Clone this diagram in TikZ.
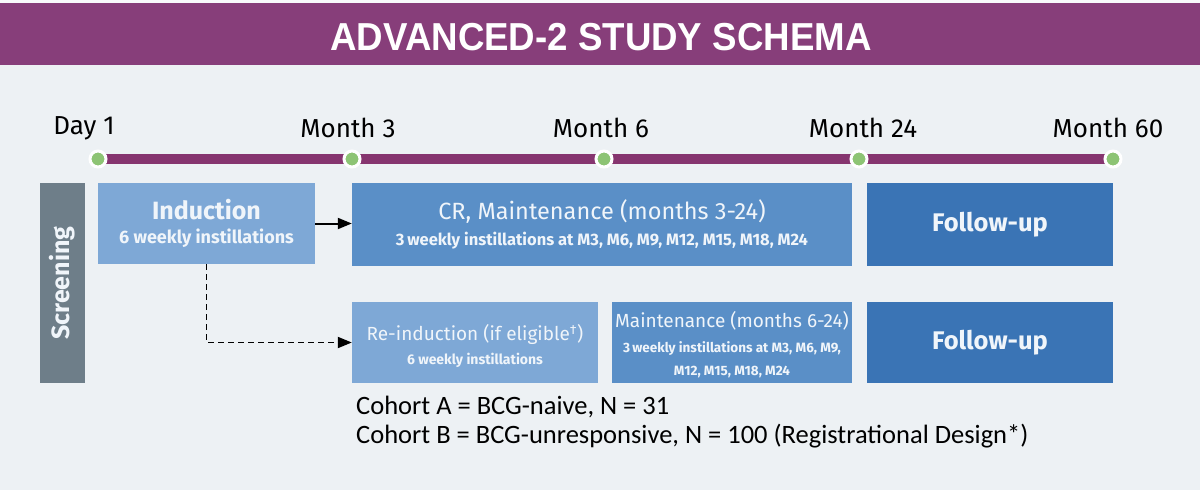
\documentclass[tikz,border=0pt]{standalone}
\usepackage{fontspec}
\setmainfont{Fira Sans}
\newfontfamily\cohortfont{Carlito}
\newfontfamily\titlefont{Liberation Sans}
\usetikzlibrary{arrows.meta}
\definecolor{bgc}{RGB}{237,241,244}
\definecolor{purp}{RGB}{135,62,122}
\definecolor{linep}{RGB}{134,53,111}
\definecolor{lightb}{RGB}{126,168,214}
\definecolor{midb}{RGB}{90,143,199}
\definecolor{darkb}{RGB}{58,116,181}
\definecolor{scrg}{RGB}{110,126,137}
\definecolor{dotg}{RGB}{141,196,116}
\definecolor{boxtext}{RGB}{240,245,250}
\newcommand{\fs}[1]{\fontsize{#1}{#1}\selectfont}
\tikzset{
  box/.style={rectangle, inner sep=0pt, text=boxtext, align=center},
  tdot/.style={circle, fill=dotg, draw=white, line width=3pt, minimum size=16pt, inner sep=0pt},
  tlabel/.style={inner sep=0pt, font=\fs{26}},
  arr/.style={-{Triangle[length=14pt,width=11pt]}, line width=2pt},
}
\begin{document}
\begin{tikzpicture}[x=1pt,y=-1pt]
\useasboundingbox (0,0) rectangle (1200,490);
\fill[bgc] (0,0) rectangle (1200,490);
\fill[white!60!bgc] (0,0) rectangle (1200,3);
\fill[purp] (0,3) rectangle (1200,65);
\node[inner sep=0pt, text=white, font=\titlefont\bfseries\fs{39}, xscale=0.94] (title) at (601,37) {ADVANCED-2 STUDY SCHEMA};

% timeline
\coordinate (c1) at (98,159);
\coordinate (c2) at (352,159);
\coordinate (c3) at (604,159);
\coordinate (c4) at (859,159);
\coordinate (c5) at (1113,159);
\draw[linep, line width=10pt] (c1) -- (c5);
\node[tdot] (d1) at (c1) {};
\node[tdot] (d2) at (c2) {};
\node[tdot] (d3) at (c3) {};
\node[tdot] (d4) at (c4) {};
\node[tdot] (d5) at (c5) {};
\node[tlabel] (l1) at (84,128) {Day 1};
\node[tlabel] (l2) at (348,128) {Month 3};
\node[tlabel] (l3) at (601,128) {Month 6};
\node[tlabel] (l4) at (863,128) {Month 24};
\node[tlabel] (l5) at (1108,128) {Month 60};

% boxes
\node[box, fill=scrg, minimum width=45pt, minimum height=200pt] (scr) at (62.5,283) {};
\node[text=boxtext, rotate=90, font=\bfseries\fs{25}, inner sep=0pt] (scrt) at (scr.center) {Screening};

\node[box, fill=lightb, minimum width=217pt, minimum height=81pt] (ind) at (206.5,223.5)
  {{\bfseries\fs{25}Induction}\\[8pt]{\bfseries\fs{18}6 weekly instillations}};
\node[box, fill=midb, minimum width=500pt, minimum height=83pt] (cr) at (602,224.5)
  {{\fs{23.5}CR, Maintenance (months 3-24)}\\[7pt]{\bfseries\fs{16.5}3\,weekly instillations at M3, M6, M9, M12, M15, M18, M24}};
\node[box, fill=darkb, minimum width=246pt, minimum height=83pt] (fu1) at (990,224.5)
  {\bfseries\fs{25.5}Follow-up};

\node[box, fill=lightb, minimum width=246pt, minimum height=81pt] (rei) at (475,342.5)
  {\raisebox{-4pt}[\height][\depth]{\begin{tabular}{@{}c@{}}{\fs{19}Re-induction (if eligible\textsuperscript{\dag})}\\[9pt]{\bfseries\fs{14}6 weekly instillations}\end{tabular}}};
\node[box, fill=midb, minimum width=240pt, minimum height=81pt] (mnt) at (732,342.5)
  {\raisebox{-3pt}[\height][\depth]{\begin{tabular}{@{}c@{}}{\fs{19}Maintenance (months 6-24)}\\[10pt]{\bfseries\fs{13.5}3\,weekly instillations at M3, M6, M9,}\\[10pt]{\bfseries\fs{13.5}M12, M15, M18, M24}\end{tabular}}};
\node[box, fill=darkb, minimum width=246pt, minimum height=81pt] (fu2) at (990,342.5)
  {\bfseries\fs{25.5}Follow-up};

% connectors
\draw[arr] (ind.east) -- (cr.west |- ind.east);
\draw[arr, dash pattern=on 6pt off 4pt, line width=1.8pt] (ind.south) |- (rei.west);

% cohort text
\node[anchor=west, inner sep=0pt, font=\cohortfont\fs{26.5}, align=left] (coh) at (356,422)
  {Cohort A = BCG-naive, N = 31\\[3pt]Cohort B = BCG-unresponsive, N = 100 (Registrational Design*)};
\end{tikzpicture}
\end{document}
